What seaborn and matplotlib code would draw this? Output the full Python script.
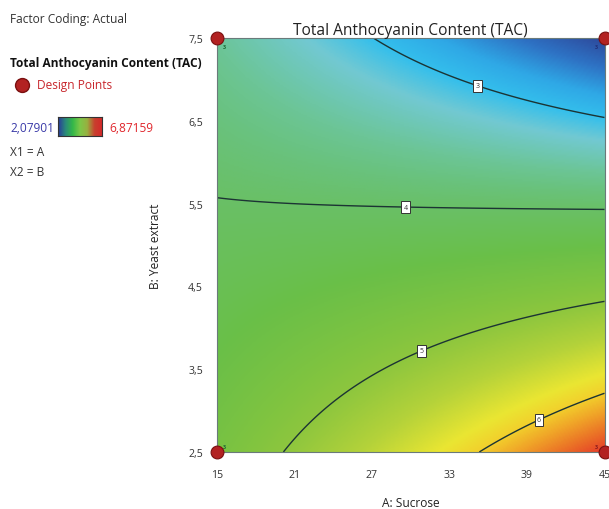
import numpy as np
import matplotlib
matplotlib.use("Agg")
import matplotlib.pyplot as plt
import seaborn as sns
from matplotlib.colors import LinearSegmentedColormap
from matplotlib.lines import Line2D

# design space (actual units)
sucrose_range = [15, 45]
yeast_range = [2.5, 7.5]

# 2FI model in coded units: b0, A, B, AB
coef_b0 = 4.255
coef_a = 0.132
coef_b = -1.395
coef_ab = -0.857

# design points (factorial corners, 3 replicates each)
design_sucrose = [15, 15, 45, 45]
design_yeast = [2.5, 7.5, 7.5, 2.5]
design_reps = ['3', '3', '3', '3']
rep_colors = ['#1d6b35', '#1d6b35', '#22307a', '#8c1c1c']
rep_offsets = [(4, 3), (4, -7), (-7, -7), (-7, 3)]

contour_levels = [3, 4, 5, 6]
label_spots = [(35.3, 6.97), (29.6, 5.51), (30.7, 3.78), (39.8, 2.93)]
tac_min, tac_max = '2,07901', '6,87159'

x_ticks = [15, 21, 27, 33, 39, 45]
y_ticks = [2.5, 3.5, 4.5, 5.5, 6.5, 7.5]
y_ticklabels = ['2,5', '3,5', '4,5', '5,5', '6,5', '7,5']

# surface colours: TAC value -> colour
stop_values = [2.14, 2.45, 2.75, 3.0, 3.25, 3.45, 3.6, 3.8, 4.0, 4.4, 4.8, 5.0,
               5.4, 5.8, 6.0, 6.2, 6.45, 6.64]
stop_colors = ['#2d4a9c', '#2e72c4', '#2fa8e6', '#34bfec', '#72c9d2', '#6ec7b0',
               '#6cc596', '#69c27c', '#69c066', '#6abf48', '#80c440', '#8dc63e',
               '#b4d23a', '#eae632', '#f2d02c', '#f0a428', '#ea6a26', '#e53e2a']

sns.set_style('white')
plt.rcParams['font.family'] = ['Open Sans', 'DejaVu Sans']

pos = [(v - stop_values[0]) / (stop_values[-1] - stop_values[0]) for v in stop_values]
cmap = LinearSegmentedColormap.from_list('tac', list(zip(pos, stop_colors)))

A = np.linspace(sucrose_range[0], sucrose_range[1], 301)
B = np.linspace(yeast_range[0], yeast_range[1], 301)
AA, BB = np.meshgrid(A, B)
a = (AA - 30) / 15
b = (BB - 5) / 2.5
Z = coef_b0 + coef_a * a + coef_b * b + coef_ab * a * b

fig = plt.figure(figsize=(6.09, 5.10), dpi=100)
ax = fig.add_axes([217 / 609, 1 - 453 / 510, 387.5 / 609, 414 / 510])

ax.imshow(Z, extent=[15, 45, 2.5, 7.5], origin='lower', aspect='auto', cmap=cmap,
          vmin=stop_values[0], vmax=stop_values[-1], interpolation='bilinear')
cs = ax.contour(AA, BB, Z, levels=contour_levels, colors='#1c3434', linewidths=1.0)
labels = ax.clabel(cs, fmt='%d', fontsize=5, inline=False, manual=label_spots)
for t in labels:
    t.set_rotation(0)
    t.set_color('#333333')
    t.set_bbox(dict(boxstyle='square,pad=0.35', fc='white', ec='#333333', lw=0.7))

sns.scatterplot(x=design_sucrose, y=design_yeast, ax=ax, s=85, color='#b22222',
                edgecolor='#7a1010', linewidth=0.8, clip_on=False, zorder=10, legend=False)
for xs, ys, r, c, off in zip(design_sucrose, design_yeast, design_reps, rep_colors, rep_offsets):
    ax.annotate(r, (xs, ys), xytext=off, textcoords='offset points', fontsize=4,
                color=c, fontweight='bold')

ax.set_xlim(sucrose_range)
ax.set_ylim(yeast_range)
ax.set_xticks(x_ticks)
ax.set_yticks(y_ticks)
ax.set_yticklabels(y_ticklabels)
ax.tick_params(direction='out', length=6, width=1, color='#777777', labelsize=7.6,
               labelcolor='#333333', pad=4)
ax.tick_params(axis='x', pad=6)
for s in ax.spines.values():
    s.set_color('#6a7a7a')
    s.set_linewidth(0.8)

ax.set_title('Total Anthocyanin Content (TAC)', fontsize=11.2, color='#222222', pad=3)
ax.set_xlabel('A: Sucrose', fontsize=8.6, color='#222222', labelpad=12)
ax.set_ylabel('B: Yeast extract', fontsize=8.6, color='#222222', labelpad=19)

# left-hand info panel
fs = 8.6
fig.text(10 / 609, 1 - 20 / 510, 'Factor Coding: Actual', fontsize=fs, color='#333333', va='center')
fig.text(10 / 609, 1 - 64 / 510, 'Total Anthocyanin Content (TAC)', fontsize=fs,
         fontweight='bold', color='#111111', va='center')
fig.add_artist(Line2D([22 / 609], [1 - 86 / 510], marker='o', ms=10, mfc='#b22222',
                      mec='#7a1010', transform=fig.transFigure))
fig.text(37 / 609, 1 - 86 / 510, 'Design Points', fontsize=fs, color='#c8262c', va='center')
fig.text(10 / 609, 1 - 128 / 510, tac_min, fontsize=fs, color='#3a3aa8', va='center')
fig.text(109 / 609, 1 - 128 / 510, tac_max, fontsize=fs, color='#e0262c', va='center')
fig.text(10 / 609, 1 - 152 / 510, 'X1 = A', fontsize=fs, color='#333333', va='center')
fig.text(10 / 609, 1 - 173 / 510, 'X2 = B', fontsize=fs, color='#333333', va='center')

cax = fig.add_axes([58 / 609, 1 - 137 / 510, 44 / 609, 19 / 510])
bar_cmap = LinearSegmentedColormap.from_list(
    'bar', ['#2a3a9a', '#2a8a7a', '#34b848', '#7cc848', '#98b040', '#c8402e', '#d42a2a'])
cax.imshow(np.linspace(0, 1, 100)[None, :], aspect='auto', cmap=bar_cmap)
cax.set_xticks([])
cax.set_yticks([])
for s in cax.spines.values():
    s.set_color('#333333')
    s.set_linewidth(0.8)

fig.savefig('out.png', dpi=100)
